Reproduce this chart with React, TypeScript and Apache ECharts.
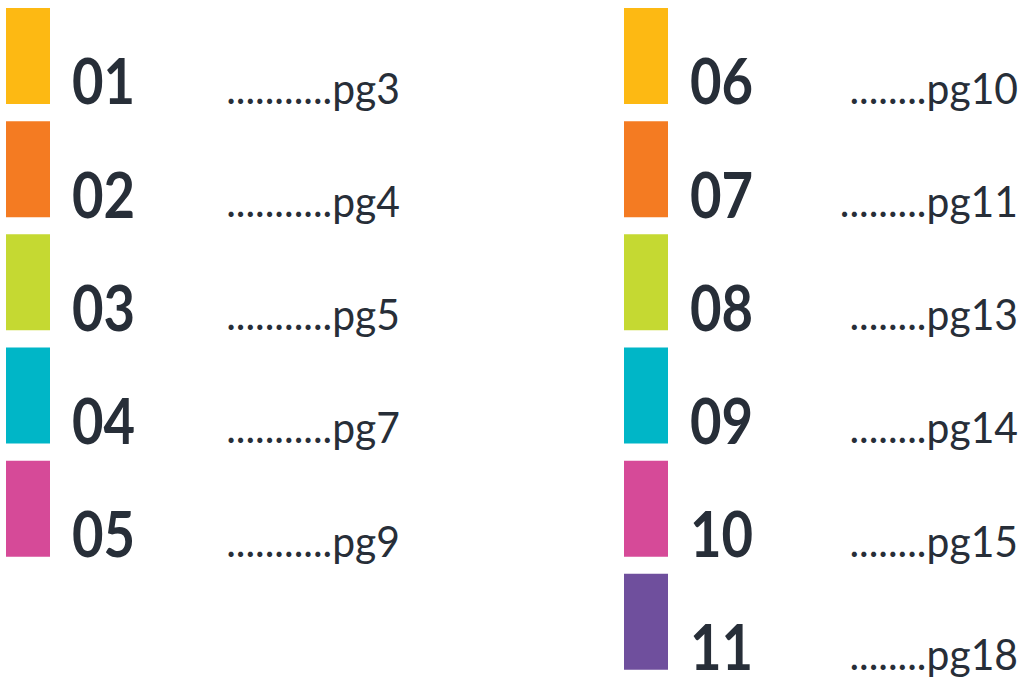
import React, { useEffect, useRef } from "react";
import * as echarts from "echarts";

const numbers = ["01", "02", "03", "04", "05", "06", "07", "08", "09", "10", "11"];
const pageLabels = [
  "...........pg3",
  "...........pg4",
  "...........pg5",
  "...........pg7",
  "...........pg9",
  "........pg10",
  ".........pg11",
  "........pg13",
  "........pg14",
  "........pg15",
  "........pg18",
];
const columns = [0, 0, 0, 0, 0, 1, 1, 1, 1, 1, 1];
const rows = [0, 1, 2, 3, 4, 0, 1, 2, 3, 4, 5];
const colors = [
  "#FDB913",
  "#F47B22",
  "#C5D932",
  "#00B6C7",
  "#D64A98",
  "#FDB913",
  "#F47B22",
  "#C5D932",
  "#00B6C7",
  "#D64A98",
  "#6F4F9D",
];

const TEXT = "#272e38";

export default function App() {
  const ref = useRef<HTMLDivElement>(null);
  useEffect(() => {
    if (!ref.current) return;
    const chart = echarts.init(ref.current, null, { renderer: "svg" });
    const data = numbers.map((_, i) => [columns[i], rows[i]]);
    chart.setOption({
      animation: false,
      backgroundColor: "#ffffff",
      grid: { left: 6, right: 397, top: 0, bottom: 0 },
      xAxis: { type: "value", min: 0, max: 1, show: false },
      yAxis: { type: "value", min: -0.5, max: 5.5, inverse: true, show: false },
      series: [
        {
          type: "custom",
          data,
          renderItem: (params: any, api: any) => {
            const i = params.dataIndex;
            const [x, y] = api.coord([api.value(0), api.value(1)]);
            return {
              type: "group",
              children: [
                {
                  type: "rect",
                  shape: { x, y: y - 48.6, width: 44, height: 96 },
                  style: { fill: colors[i] },
                },
                {
                  type: "text",
                  x: x + 66,
                  y: y + 23,
                  scaleX: 0.85,
                  style: {
                    text: numbers[i],
                    fontFamily: "Lato",
                    fontWeight: "bold",
                    fontSize: 64,
                    fill: TEXT,
                    align: "left",
                    verticalAlign: "middle",
                  },
                },
                {
                  type: "text",
                  x: x + 394,
                  y: y + 31,
                  scaleX: 0.95,
                  style: {
                    text: pageLabels[i],
                    fontFamily: "Lato",
                    fontSize: 43,
                    fill: TEXT,
                    align: "right",
                    verticalAlign: "middle",
                  },
                },
              ],
            };
          },
        },
      ],
    });
    return () => chart.dispose();
  }, []);
  return (
    <div
      ref={ref}
      style={{ position: "fixed", left: 0, top: 0, width: 1021, height: 679 }}
    />
  );
}
